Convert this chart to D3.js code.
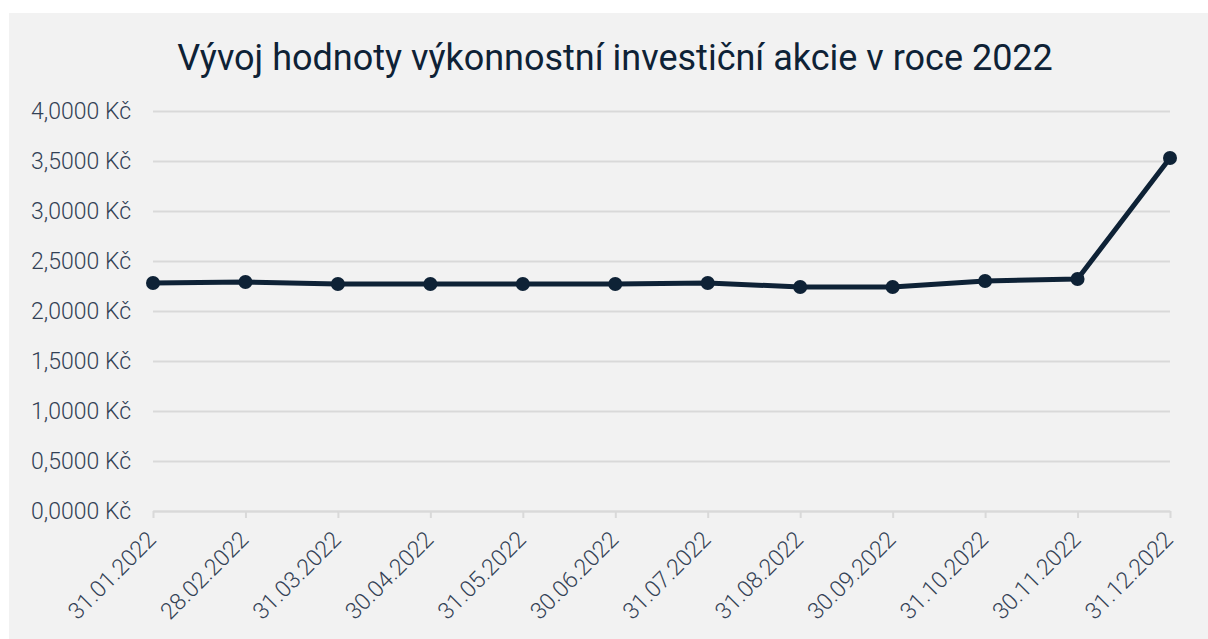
<!DOCTYPE html>
<html>
<head>
<meta charset="utf-8">
<script src="https://cdn.jsdelivr.net/npm/d3@7"></script>
<style>
  html, body { margin: 0; padding: 0; background: #ffffff; }
  svg { display: block; font-family: Roboto, "Noto Sans", sans-serif; }
</style>
</head>
<body>
<div id="chart"></div>
<script>
var dates = ["31.01.2022", "28.02.2022", "31.03.2022", "30.04.2022", "31.05.2022", "30.06.2022",
             "31.07.2022", "31.08.2022", "30.09.2022", "31.10.2022", "30.11.2022", "31.12.2022"];
var values = [2.28, 2.29, 2.27, 2.27, 2.27, 2.27, 2.28, 2.24, 2.24, 2.30, 2.32, 3.53];
var yTicks = [0, 0.5, 1, 1.5, 2, 2.5, 3, 3.5, 4];
var title = "Vývoj hodnoty výkonnostní investiční akcie v roce 2022";

var width = 1208, height = 639;
var margin = { top: 111, right: 38, bottom: 128, left: 153 };
var ink = '#0e2236', grid = '#d9d9d9', textCol = '#334155';

var svg = d3.select('#chart').append('svg')
    .attr('width', width)
    .attr('height', height);

// panel
svg.append('rect')
    .attr('x', 9).attr('y', 13)
    .attr('width', width - 9).attr('height', height - 13)
    .attr('fill', '#f2f2f2');

svg.append('text')
    .attr('x', 615).attr('y', 70)
    .attr('text-anchor', 'middle')
    .attr('font-size', 36)
    .attr('fill', ink)
    .text(title);

var x = d3.scalePoint()
    .domain(dates)
    .range([margin.left, width - margin.right]);

var y = d3.scaleLinear()
    .domain([0, 4])
    .range([height - margin.bottom, margin.top]);

// gridlines + y labels
var yAxis = svg.append('g')
    .attr('transform', 'translate(' + margin.left + ',0)')
    .call(d3.axisLeft(y)
        .tickValues(yTicks)
        .tickSize(-(width - margin.left - margin.right))
        .tickPadding(22)
        .tickFormat(function (d) { return d3.format('.4f')(d).replace('.', ',') + ' Kč'; }));
yAxis.select('.domain').remove();
yAxis.selectAll('.tick line').attr('stroke', grid).attr('stroke-width', 2);
yAxis.selectAll('.tick text')
    .attr('font-size', 23)
    .attr('font-weight', 300)
    .attr('fill', textCol)
    .attr('font-family', 'Roboto, sans-serif');

// x axis
var xAxis = svg.append('g')
    .attr('transform', 'translate(0,' + y(0) + ')')
    .call(d3.axisBottom(x).tickSize(7).tickSizeOuter(0).tickPadding(6));
xAxis.select('.domain').attr('stroke', grid).attr('stroke-width', 2);
xAxis.selectAll('.tick line').attr('stroke', grid).attr('stroke-width', 2);
xAxis.selectAll('.tick text')
    .attr('font-size', 23)
    .attr('font-weight', 300)
    .attr('fill', textCol)
    .attr('font-family', 'Roboto, sans-serif')
    .attr('text-anchor', 'end')
    .attr('dy', '0.35em')
    .attr('transform', 'translate(-11,15) rotate(-45)');

var line = d3.line()
    .x(function (d, i) { return x(dates[i]); })
    .y(function (d) { return y(d); });

svg.append('path')
    .datum(values)
    .attr('fill', 'none')
    .attr('stroke', ink)
    .attr('stroke-width', 5)
    .attr('stroke-linejoin', 'round')
    .attr('d', line);

svg.selectAll('.dot')
    .data(values)
    .enter().append('circle')
    .attr('class', 'dot')
    .attr('cx', function (d, i) { return x(dates[i]); })
    .attr('cy', function (d) { return y(d); })
    .attr('r', 7)
    .attr('fill', ink);
</script>
</body>
</html>
